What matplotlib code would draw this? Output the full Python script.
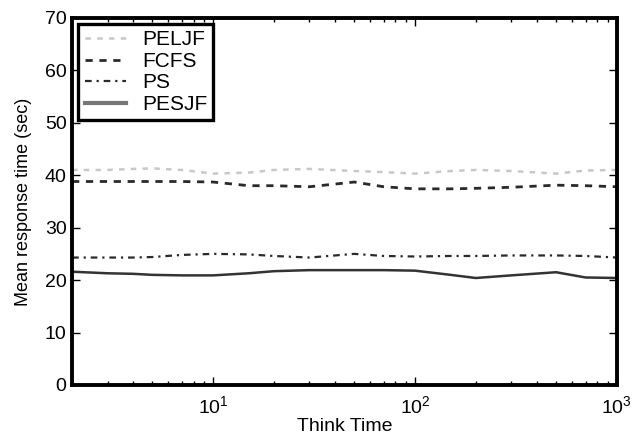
import matplotlib
matplotlib.use("Agg")
import matplotlib.pyplot as plt
from matplotlib.ticker import LogLocator, MultipleLocator

plt.rcParams['font.family'] = ['Liberation Sans', 'DejaVu Sans']
plt.rcParams['mathtext.fontset'] = 'custom'
plt.rcParams['mathtext.rm'] = 'Liberation Sans'

# think times (sec) and mean response time per policy
think_time = [2, 3, 4, 5, 7, 10, 15, 20, 30, 50, 70, 100, 150, 200, 300, 500, 700, 1000]
peljf = [41.0, 41.0, 41.2, 41.3, 41.0, 40.3, 40.5, 41.0, 41.2, 40.8, 40.6, 40.3,
         40.8, 41.0, 40.8, 40.3, 40.9, 41.0]
fcfs = [38.8, 38.8, 38.8, 38.8, 38.8, 38.7, 38.0, 38.0, 37.8, 38.7, 37.8, 37.4,
        37.4, 37.5, 37.7, 38.1, 38.0, 37.8]
ps = [24.3, 24.3, 24.3, 24.4, 24.8, 25.0, 24.9, 24.6, 24.3, 25.0, 24.6, 24.5,
      24.6, 24.6, 24.7, 24.7, 24.6, 24.3]
pesjf = [21.6, 21.3, 21.2, 21.0, 20.9, 20.9, 21.3, 21.7, 21.9, 21.9, 21.9, 21.8,
         21.0, 20.4, 20.9, 21.5, 20.5, 20.4]

fig = plt.figure(figsize=(6.32, 4.36), dpi=100)
ax = fig.add_axes([0.114, 0.117, 0.862, 0.842])

ax.plot(think_time, peljf, color='#c8c8c8', lw=1.8, linestyle=(0, (2.2, 2.5)), label='PELJF')
ax.plot(think_time, fcfs, color='#2a2a2a', lw=2.0, linestyle=(0, (2.6, 2.4)), label='FCFS')
ax.plot(think_time, ps, color='#2a2a2a', lw=1.6, linestyle=(0, (3, 2.2, 1, 2.2)), label='PS')
ax.plot(think_time, pesjf, color='#333333', lw=1.8, linestyle='-', label='PESJF')

ax.set_xscale('log')
ax.set_xlim(2, 1000)
ax.set_ylim(0, 70)
ax.yaxis.set_major_locator(MultipleLocator(10))
ax.xaxis.set_major_locator(LogLocator(base=10))
ax.xaxis.set_minor_locator(LogLocator(base=10, subs=range(2, 10)))

ax.tick_params(which='both', direction='in', top=True, right=True, labelsize=14)
ax.tick_params(which='major', length=6, width=1)
ax.tick_params(which='minor', length=3, width=1)
ax.tick_params(axis='x', pad=7)
ax.tick_params(axis='y', pad=4)
for s in ax.spines.values():
    s.set_linewidth(2.8)

ax.set_xlabel('Think Time', fontsize=14, labelpad=1)
ax.set_ylabel('Mean response time (sec)', fontsize=13, labelpad=9)

leg = ax.legend(loc='upper left', fontsize=15, handlelength=2.0, handletextpad=0.75,
                borderaxespad=0.3, fancybox=False, framealpha=1, labelspacing=0.12,
                borderpad=0.3)
leg.get_frame().set_edgecolor('black')
leg.get_frame().set_linewidth(2.4)
# the legend sample of the solid line is drawn heavier and grey
leg.get_lines()[3].set_color('#777777')
leg.get_lines()[3].set_linewidth(3.0)

fig.savefig('out.png', dpi=100)
